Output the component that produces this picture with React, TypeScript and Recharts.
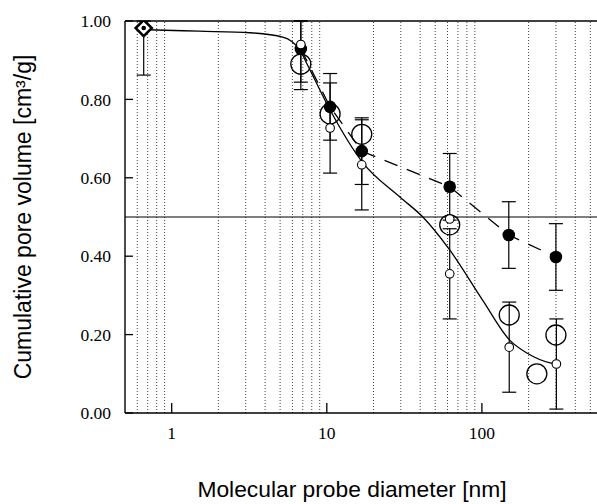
import React from 'react';
import { ComposedChart, XAxis, YAxis, Line, Scatter, ErrorBar, ReferenceLine, Label } from 'recharts';

// ---- data ----
const xTicks = [1, 10, 100];
const yTicks = [0, 0.2, 0.4, 0.6, 0.8, 1.0];
const minorGrid = [0.6, 0.7, 0.8, 0.9, 2, 3, 4, 5, 6, 7, 8, 9, 20, 30, 40, 50, 60, 70, 80, 90, 200, 300, 400, 500];

const diamondDiam = [0.66];
const diamondVol = [0.982];
const diamondErrLow = [0.12];
const diamondErrHigh = [0.018];

const filledDiam = [6.8, 10.5, 16.8, 62, 149, 300];
const filledVol = [0.929, 0.781, 0.668, 0.577, 0.454, 0.398];
const filledErrLow = [0.085, 0.085, 0.085, 0.085, 0.085, 0.085];
const filledErrHigh = [0.071, 0.085, 0.085, 0.085, 0.085, 0.085];

const smallOpenDiam = [6.8, 10.5, 16.8, 62, 150, 302];
const smallOpenVol = [0.94, 0.727, 0.633, 0.355, 0.168, 0.125];
const smallOpenErrLow = [0.115, 0.115, 0.115, 0.115, 0.115, 0.115];
const smallOpenErrHigh = [0.06, 0.115, 0.115, 0.115, 0.115, 0.115];

const largeOpenDiam = [6.8, 10.5, 16.8, 62, 150, 226, 300];
const largeOpenVol = [0.89, 0.763, 0.711, 0.48, 0.25, 0.1, 0.199];

const extraOpenDiam = [62];
const extraOpenVol = [0.495];

const fitDiam = [0.66, 0.8, 1.5, 3.2, 5.2, 6.7, 7.4, 10.5, 17.1, 29.6, 41.6, 62, 101, 151, 195, 275, 305];
const fitVol = [0.978, 0.977, 0.974, 0.97, 0.959, 0.926, 0.893, 0.773, 0.638, 0.551, 0.5, 0.416, 0.288, 0.186, 0.153, 0.128, 0.125];

const xLabel = 'Molecular probe diameter [nm]';
const yLabel = 'Cumulative pore volume [cm\u00B3/g]';

// ---- tables built from the arrays ----
const diamondData = diamondDiam.map((x, i) => ({ x, y: diamondVol[i], e: [diamondErrLow[i], diamondErrHigh[i]] }));
const filledData = filledDiam.map((x, i) => ({ x, y: filledVol[i], e: [filledErrLow[i], filledErrHigh[i]] }));
const smallOpenData = smallOpenDiam.map((x, i) => ({ x, y: smallOpenVol[i], e: [smallOpenErrLow[i], smallOpenErrHigh[i]] }));
const largeOpenData = largeOpenDiam.map((x, i) => ({ x, y: largeOpenVol[i] }));
const extraOpenData = extraOpenDiam.map((x, i) => ({ x, y: extraOpenVol[i] }));
const fitData = fitDiam.map((x, i) => ({ x, y: fitVol[i] }));

const SERIF = '"Liberation Serif", "Times New Roman", serif';
const SANS = '"Liberation Sans", Arial, sans-serif';
const Y_TM = 14;
const X_TM = 14;

const YTick = (p: any) => {
  const { x, y, payload } = p;
  const ax = x + Y_TM;
  return (
    <g>
      <line x1={ax} x2={ax + 8} y1={y} y2={y} stroke="#000" strokeWidth={1.3} />
      <text x={x} y={y} dy="0.35em" textAnchor="end" fontFamily={SERIF} fontSize={17.5} fill="#000">
        {Number(payload.value).toFixed(2)}
      </text>
    </g>
  );
};

const XTick = (p: any) => {
  const { x, y, payload } = p;
  const ay = y - X_TM;
  return (
    <g>
      <line x1={x} x2={x} y1={ay} y2={ay - 10} stroke="#000" strokeWidth={1.3} />
      <text x={x} y={y} dy="0.71em" textAnchor="middle" fontFamily={SERIF} fontSize={17.5} fill="#000">
        {payload.value}
      </text>
    </g>
  );
};

const YLabelContent = (p: any) => {
  const vb = p.viewBox || { x: 0, y: 21, width: 125, height: 392 };
  const cx = vb.x + 31;
  const cy = vb.y + vb.height / 2;
  return (
    <text x={cx} y={cy} transform={`rotate(-90 ${cx} ${cy})`} textAnchor="middle" fontFamily={SANS} fontSize={23} fill="#000">
      {yLabel}
    </text>
  );
};

const XLabelContent = (p: any) => {
  const vb = p.viewBox || { x: 125, y: 413, width: 472, height: 91 };
  const cx = vb.x + vb.width / 2 - 9;
  const cy = vb.y + vb.height - 7;
  return (
    <text x={cx} y={cy} textAnchor="middle" fontFamily={SANS} fontSize={22.8} fill="#000">
      {xLabel}
    </text>
  );
};

const LargeOpen = (p: any) => <circle cx={p.cx} cy={p.cy} r={10} fill="none" stroke="#000" strokeWidth={1.3} />;
const SmallOpen = (p: any) => <circle cx={p.cx} cy={p.cy} r={4.3} fill="#fff" stroke="#000" strokeWidth={1.1} />;
const Filled = (p: any) => <circle cx={p.cx} cy={p.cy} r={6.3} fill="#000" />;
const Diamond = (p: any) => {
  const s = 8;
  const { cx, cy } = p;
  return (
    <g>
      <polygon
        points={`${cx},${cy - s} ${cx + s},${cy} ${cx},${cy + s} ${cx - s},${cy}`}
        fill="#fff"
        stroke="#000"
        strokeWidth={2.6}
      />
      <circle cx={cx} cy={cy} r={2.3} fill="#000" />
    </g>
  );
};

export default function App() {
  return (
    <div style={{ position: 'absolute', left: 0, top: 0, width: 597, height: 504, background: '#fff' }}>
      <ComposedChart width={597} height={504} margin={{ top: 21, right: 0, bottom: 0, left: 0 }}>
        <XAxis
          type="number"
          dataKey="x"
          scale="log"
          domain={[0.5, 552]}
          allowDataOverflow
          ticks={xTicks}
          tick={<XTick />}
          tickLine={false}
          tickSize={0}
          tickMargin={X_TM}
          height={91}
          axisLine={{ stroke: '#000', strokeWidth: 1.4 }}
          interval={0}
        >
          <Label content={<XLabelContent />} />
        </XAxis>
        <YAxis
          type="number"
          domain={[0, 1]}
          allowDataOverflow
          ticks={yTicks}
          tick={<YTick />}
          tickLine={false}
          tickSize={0}
          tickMargin={Y_TM}
          width={125}
          axisLine={{ stroke: '#000', strokeWidth: 1.4 }}
          interval={0}
        >
          <Label content={<YLabelContent />} />
        </YAxis>
        {minorGrid.map((g) => (
          <ReferenceLine key={g} x={g} stroke="#444" strokeWidth={1} strokeDasharray="1 2" />
        ))}
        <ReferenceLine y={1} stroke="#000" strokeWidth={1.4} />
        <ReferenceLine y={0.5} stroke="#000" strokeWidth={1.1} />
        <Line
          data={fitData}
          dataKey="y"
          type="monotone"
          stroke="#000"
          strokeWidth={1.3}
          dot={false}
          isAnimationActive={false}
        />
        <Line
          data={filledData}
          dataKey="y"
          type="linear"
          stroke="#000"
          strokeWidth={1.3}
          strokeDasharray="14 10"
          dot={false}
          isAnimationActive={false}
        />
        <Scatter data={largeOpenData} dataKey="y" shape={<LargeOpen />} isAnimationActive={false} />
        <Scatter data={filledData} dataKey="y" shape={<Filled />} isAnimationActive={false}>
          <ErrorBar dataKey="e" direction="y" width={7} stroke="#000" strokeWidth={1.2} />
        </Scatter>
        <Scatter data={smallOpenData} dataKey="y" shape={<SmallOpen />} isAnimationActive={false}>
          <ErrorBar dataKey="e" direction="y" width={7} stroke="#000" strokeWidth={1.2} />
        </Scatter>
        <Scatter data={extraOpenData} dataKey="y" shape={<SmallOpen />} isAnimationActive={false} />
        <Scatter data={diamondData} dataKey="y" shape={<Diamond />} isAnimationActive={false}>
          <ErrorBar dataKey="e" direction="y" width={7} stroke="#000" strokeWidth={1.2} />
        </Scatter>
      </ComposedChart>
    </div>
  );
}
